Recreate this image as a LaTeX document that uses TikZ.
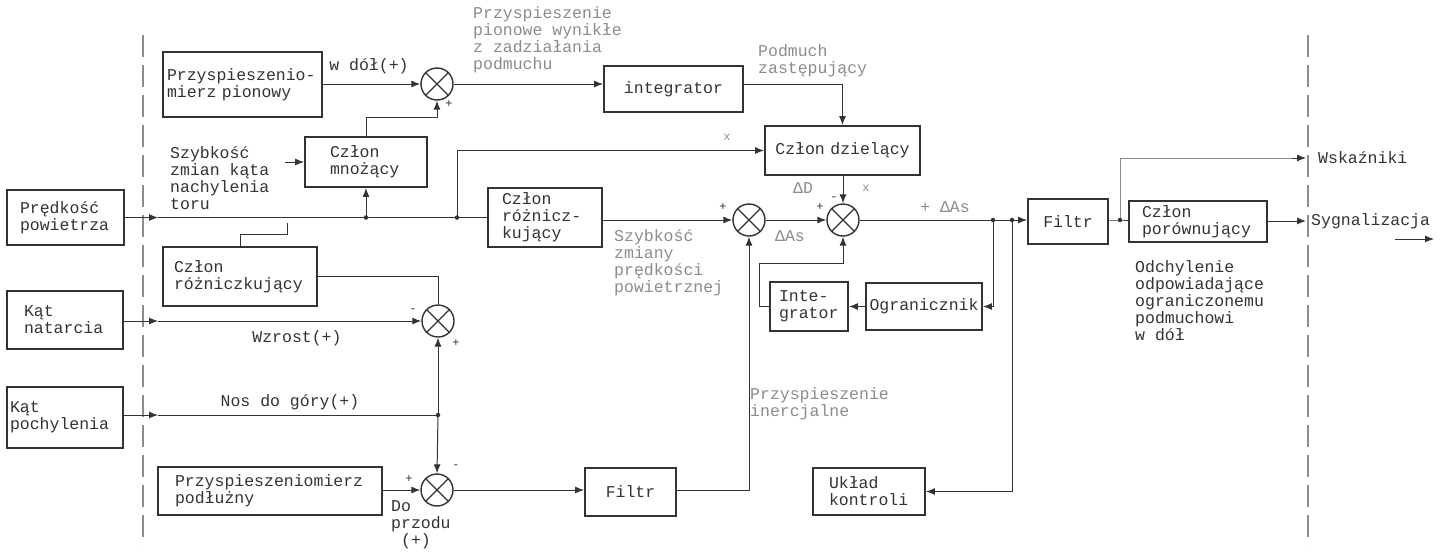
\documentclass[tikz,border=0pt]{standalone}
\usepackage{fontspec}
\setmonofont{Liberation Mono}
\usetikzlibrary{arrows.meta,calc}
\definecolor{ink}{gray}{0.2}
\definecolor{faint}{gray}{0.55}
\begin{document}
\begin{tikzpicture}[x=1pt,y=-1pt,
  font=\ttfamily\fontsize{16.5}{17}\selectfont,
  box/.style={draw=ink, line width=1.9pt, align=left, text=ink},
  cbox/.style={box, align=center},
  sj/.style={circle, draw=ink, line width=1.4pt, minimum size=32pt, inner sep=0pt},
  con/.style={draw=ink, line width=1pt},
  arr/.style={con, -{Latex[length=9pt,width=7pt]}},
  dot/.style={circle, fill=ink, inner sep=0pt, minimum size=4.5pt},
  lbl/.style={align=left, inner sep=0pt, text=ink},
  flbl/.style={lbl, text=faint},
  sgn/.style={inner sep=0pt, font=\ttfamily\fontsize{12}{12}\selectfont, text=ink},
  sepline/.style={draw=faint, line width=1.3pt, dash pattern=on 22pt off 8pt}]
\useasboundingbox (0,0) rectangle (1446,552);
\fill[white] (0,0) rectangle (1446,552);

% separators
\draw[sepline] (143,35) -- (143,545);
\draw[sepline] (1308,35) -- (1308,545);

% boxes
\node[box, minimum width=159pt, minimum height=65pt, inner xsep=4pt, text width=151pt] (pion) at (242.5,84.5) {Przyspieszenio-\\mierz pionowy};
\node[box, minimum width=122pt, minimum height=50pt, inner xsep=25pt, text width=72pt] (mnoz) at (366,162) {Człon\\mnożący};
\node[box, minimum width=117pt, minimum height=55pt, inner xsep=13pt, text width=91pt] (pred) at (65.5,217.5) {Prędkość\\powietrza};
\node[box, minimum width=154pt, minimum height=59pt, inner xsep=11pt, text width=132pt] (rozL) at (240,276.5) {Człon\\różniczkujący};
\node[box, minimum width=116pt, minimum height=58pt, inner xsep=17pt, text width=82pt] (nat) at (65,320) {Kąt\\natarcia};
\node[box, minimum width=116pt, minimum height=61pt, inner xsep=3pt, text width=110pt] (poch) at (65,417.5) {Kąt\\pochylenia};
\node[box, minimum width=224pt, minimum height=48pt, inner xsep=17pt, text width=190pt] (podl) at (270,491) {Przyspieszeniomierz\\podłużny};
\node[cbox, minimum width=139pt, minimum height=46pt, inner xsep=5pt, text width=129pt] (integ) at (673.5,89) {integrator};
\node[cbox, minimum width=155pt, minimum height=49pt, inner xsep=4pt, text width=147pt] (dziel) at (842.5,150.5) {Człon dzielący};
\node[box, minimum width=114pt, minimum height=59pt, inner xsep=14pt, text width=86pt] (rozM) at (545,217.5) {Człon\\różnicz-\\kujący};
\node[box, minimum width=78pt, minimum height=49pt, inner xsep=9pt, text width=60pt] (integ2) at (809,306.5) {Inte-\\grator};
\node[cbox, minimum width=116pt, minimum height=47pt, inner xsep=3pt, text width=110pt] (ogr) at (924,306.5) {Ogranicznik};
\node[cbox, minimum width=80pt, minimum height=45pt, inner xsep=5pt, text width=70pt] (filtrR) at (1068,221.5) {Filtr};
\node[box, minimum width=138pt, minimum height=41pt, inner xsep=13pt, text width=112pt] (por) at (1198,221.5) {Człon\\porównujący};
\node[cbox, minimum width=91pt, minimum height=48pt, inner xsep=5pt, text width=81pt] (filtrB) at (630.5,492) {Filtr};
\node[box, minimum width=112pt, minimum height=47pt, inner xsep=16pt, text width=80pt] (uklad) at (869,491.5) {Układ\\kontroli};

% summing junctions
\node[sj] (S1) at (437,84) {};
\node[sj] (S2) at (438,321) {};
\node[sj] (S3) at (437,490) {};
\node[sj] (S4) at (749,220) {};
\node[sj] (S5) at (843,220) {};
\foreach \s in {S1,S2,S3,S4,S5}
  \draw[ink, line width=1.1pt] (\s.north west) -- (\s.south east) (\s.north east) -- (\s.south west);

% outputs at right
\node[lbl, anchor=west, inner xsep=12pt] (wsk) at (1306,158) {Wskaźniki};
\node[lbl, anchor=west, inner xsep=5pt] (sig) at (1306,221) {Sygnalizacja};

% coordinates
\coordinate (j1) at (366,217.5);
\coordinate (j2) at (457,217.5);
\coordinate (cP) at (158,217.5);
\coordinate (cN) at (158,321);
\coordinate (cK) at (158,415);
\coordinate (j3) at (438,415);
\coordinate (rz) at (287,223);
\coordinate (k) at (759,263);
\coordinate (jA) at (993,220);
\coordinate (jB) at (1012,220);
\coordinate (jC) at (1120,220);
\coordinate (sz) at (285,162);
\coordinate (cW) at (1292,158);
\coordinate (sa) at (1395,239);
\coordinate (sb) at (1434,239);

% connectors
\draw[arr] (pion.east |- S1.west) -- (S1.west);
\draw[arr] (mnoz.north) -- ++(0,-19) -| (S1.south);
\draw[arr] (S1.east) -- (S1.east -| integ.west);
\draw[arr] (integ.east |- S1.east) -| (dziel.north);
\draw[arr] (sz) -- (mnoz.west);
\draw[arr] (pred.east) -- (cP);
\draw[con] (cP) -- (rozM.west);
\draw[arr] (j1) -- (mnoz.south);
\draw[arr] (j2) |- (dziel.west);
\draw[con] (rozL.north) -- ++(0,-12) -| (rz);
\draw[arr] (nat.east |- cN) -- (cN);
\draw[arr] (cN) -- (S2.west);
\draw[con] (S2.north) |- (rozL.east);
\draw[arr] (poch.east |- cK) -- (cK);
\draw[con] (cK) -- (j3);
\draw[arr] (j3) -- (S2.south);
\draw[arr] (j3) -- (S3.north);
\draw[arr] (podl.east |- S3.west) -- (S3.west);
\draw[arr] (S3.east) -- (S3.east -| filtrB.west);
\draw[arr] (filtrB.east |- S3.east) -| (S4.south);
\draw[arr] (rozM.east |- S4.west) -- (S4.west);
\draw[arr] (S4.east) -- (S5.west);
\draw[arr] (dziel.south -| S5.north) -- (S5.north);
\draw[arr] (integ2.west) -| (k) -| (S5.south);
\draw[arr] (ogr.west) -- (integ2.east);
\draw[arr] (S5.east) -- (S5.east -| filtrR.west);
\draw[arr] (jA) |- (ogr.east);
\draw[arr] (jB) |- (uklad.east);
\draw[con] (filtrR.east |- jC) -- (jC) -- (por.west |- jC);
\draw[con, draw=faint] (jC) |- (cW);
\draw[arr] (cW) -- (wsk.west);
\draw[arr] (por.east |- sig.west) -- (sig.west);
\draw[arr] (sa) -- (sb);

% junction dots
\node[dot] (d1) at (j1) {};
\node[dot] (d2) at (j2) {};
\node[dot] (d3) at (j3) {};
\node[dot] (d4) at (jA) {};
\node[dot] (d5) at (jB) {};
\node[dot] (d6) at (jC) {};

% labels
\node[lbl] (lwd) at (369,66) {w dół(+)};
\node[flbl, anchor=north west] (lpp) at (473,6) {Przyspieszenie\\pionowe wynikłe\\z zadziałania\\podmuchu};
\node[flbl, anchor=north west] (lpz) at (758,44) {Podmuch\\zastępujący};
\node[lbl, anchor=north west] (lsz) at (170,146) {Szybkość\\zmian kąta\\nachylenia\\toru};
\node[flbl, anchor=north west] (lsp) at (614,229) {Szybkość\\zmiany\\prędkości\\powietrznej};
\node[flbl, anchor=north west] (lpi) at (750,387) {Przyspieszenie\\inercjalne};
\node[lbl, anchor=north west] (lod) at (1135,260) {Odchylenie\\odpowiadające\\ograniczonemu\\podmuchowi\\w dół};
\node[lbl, anchor=north west] (ldp) at (391,500) {Do\\przodu\\\ (+)};
\node[lbl] (lwz) at (297,338) {Wzrost(+)};
\node[lbl] (lnd) at (290,402) {Nos do góry(+)};
\node[flbl] (lda) at (790,236) {ΔAs};
\node[flbl] (lpda) at (945,207) {+ ΔAs};
\node[flbl] (ldd) at (803,188) {ΔD};
\node[flbl, font=\ttfamily\fontsize{12}{12}\selectfont] (ldx) at (866,188) {x};
\node[flbl, font=\ttfamily\fontsize{12}{12}\selectfont] (lx) at (727,137) {x};

% signs
\node[sgn] (g1) at (449,104) {+};
\node[sgn] (g2) at (413,311) {-};
\node[sgn] (g3) at (456,343) {+};
\node[sgn] (g4) at (409,479) {+};
\node[sgn] (g5) at (456,467) {-};
\node[sgn] (g6) at (723,207) {+};
\node[sgn] (g7) at (820,207) {+};
\node[sgn] (g8) at (834,199) {-};
\end{tikzpicture}
\end{document}
